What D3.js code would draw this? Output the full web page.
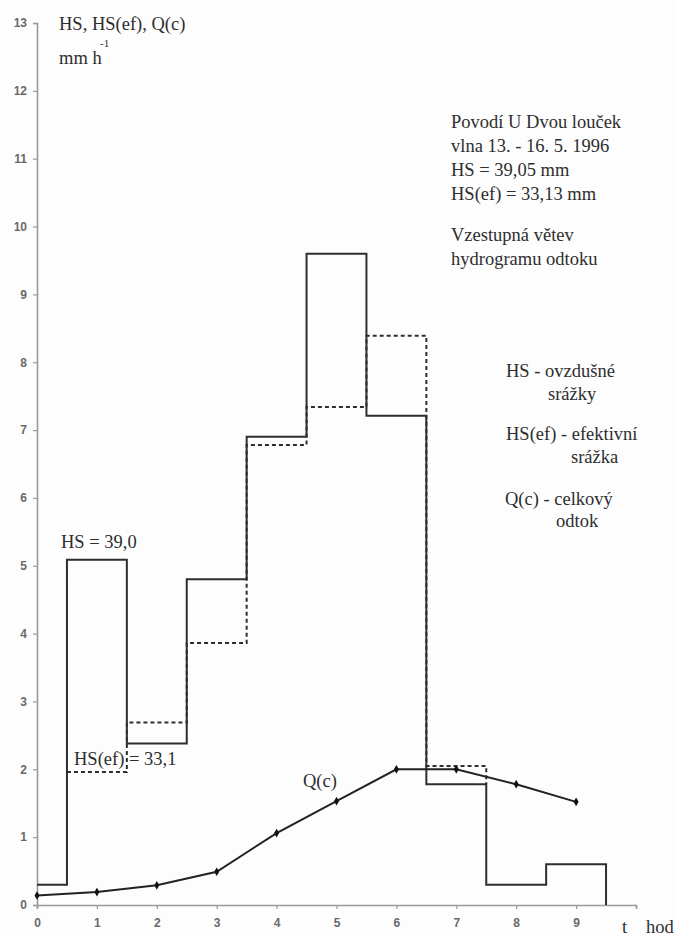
<!DOCTYPE html>
<html>
<head>
<meta charset="utf-8">
<script src="https://cdn.jsdelivr.net/npm/d3@7"></script>
<style>
  html, body { margin: 0; padding: 0; background: #fdfdfd; }
  svg { display: block; }
</style>
</head>
<body>
<div id="chart"></div>
<script>
// ---- data ----
const hsStart  = [0, 0.5, 1.5, 2.5, 3.5, 4.5, 5.5, 6.5, 7.5, 8.5];
const hsValues = [0.3, 5.09, 2.38, 4.8, 6.9, 9.6, 7.21, 1.78, 0.3, 0.6];
const hsEnd = 9.5;

const hsefStart  = [0.5, 1.5, 2.5, 3.5, 4.5, 5.5, 6.5];
const hsefValues = [1.96, 2.69, 3.86, 6.78, 7.34, 8.39, 2.05];
const hsefEnd = 7.5;

const qHours  = [0, 1, 2, 3, 4, 5, 6, 7, 8, 9];
const qValues = [0.14, 0.19, 0.29, 0.49, 1.06, 1.53, 2.0, 2.0, 1.78, 1.52];

const yTicks = [0,1,2,3,4,5,6,7,8,9,10,11,12,13];
const xTicks = [0,1,2,3,4,5,6,7,8,9,10];
const xTickLabels = ["0","1","2","3","4","5","6","7","8","9",""];

const infoLines = ["Povodí U Dvou louček", "vlna 13. - 16. 5. 1996", "HS = 39,05 mm", "HS(ef) = 33,13 mm"];
const infoLines2 = ["Vzestupná větev", "hydrogramu odtoku"];

// ---- layout ----
const W = 676, H = 936;
const svg = d3.select("#chart").append("svg").attr("width", W).attr("height", H);

const x = d3.scaleLinear().domain([0, 10]).range([37, 636]);
const y = d3.scaleLinear().domain([0, 13]).range([905, 23]);

const serif = "'Liberation Serif', 'Times New Roman', Times, serif";
const sans = "'Liberation Sans', Arial, sans-serif";
const ink = "#2e2e2e";

// axes
const yAxis = svg.append("g").attr("transform", `translate(${x(0)},0)`)
  .call(d3.axisLeft(y).tickValues(yTicks).tickSize(4).tickPadding(6).tickFormat(d3.format("d")));
const xAxis = svg.append("g").attr("transform", `translate(0,${y(0)})`)
  .call(d3.axisBottom(x).tickValues(xTicks).tickSize(4).tickPadding(9).tickFormat((d, i) => xTickLabels[i]));
[yAxis, xAxis].forEach(g => {
  g.select(".domain").attr("stroke", "#9a9a9a").attr("stroke-width", 1.6);
  g.selectAll(".tick line").attr("stroke", "#9a9a9a").attr("stroke-width", 1.2);
  g.selectAll(".tick text").attr("fill", "#444").attr("font-family", sans)
    .attr("font-size", 12).attr("font-weight", "bold").attr("opacity", 0.8);
});

const step = d3.line().x(d => x(d[0])).y(d => y(d[1])).curve(d3.curveStepAfter);

// HS(ef) dashed step
const hsefPts = hsefStart.map((s, i) => [s, hsefValues[i]]);
hsefPts.push([hsefEnd, hsValues[hsStart.indexOf(6.5)]]);
svg.append("path").attr("d", step(hsefPts))
  .attr("fill", "none").attr("stroke", ink).attr("stroke-width", 2)
  .attr("stroke-dasharray", "4,3");

// HS solid step
const hsPts = hsStart.map((s, i) => [s, hsValues[i]]);
hsPts.push([hsEnd, 0]);
svg.append("path").attr("d", step(hsPts))
  .attr("fill", "none").attr("stroke", ink).attr("stroke-width", 2);

// Q(c) line
const qLine = d3.line().x((d, i) => x(qHours[i])).y(d => y(d));
svg.append("path").attr("d", qLine(qValues))
  .attr("fill", "none").attr("stroke", "#222").attr("stroke-width", 2);
svg.selectAll(".qpt").data(qValues).enter().append("path")
  .attr("transform", (d, i) => `translate(${x(qHours[i])},${y(d)})`)
  .attr("d", d3.symbol().type(d3.symbolDiamond).size(22))
  .attr("fill", "#111");

// texts
function txt(s, tx, ty, size, anchor) {
  return svg.append("text").attr("x", tx).attr("y", ty)
    .attr("font-family", serif).attr("font-size", size || 18.5)
    .attr("fill", ink).attr("text-anchor", anchor || "start").text(s);
}

txt("HS, HS(ef), Q(c)", 59, 30);
txt("mm h", 59, 64);
txt("-1", 100, 47, 11);

infoLines.forEach((s, i) => txt(s, 451, 128 + i * 24));
infoLines2.forEach((s, i) => txt(s, 451, 241 + i * 24));

txt("HS - ovzdušné", 506, 377);
txt("srážky", 548, 400);
txt("HS(ef) - efektivní", 506, 440);
txt("srážka", 571, 463);
txt("Q(c) - celkový", 505, 505);
txt("odtok", 556, 527);

txt("HS = 39,0", 61, 548);
txt("HS(ef) = 33,1", 74, 765);
txt("Q(c)", 303, 787);

txt("t", 622, 933);
txt("hod", 646, 933);
</script>
</body>
</html>
